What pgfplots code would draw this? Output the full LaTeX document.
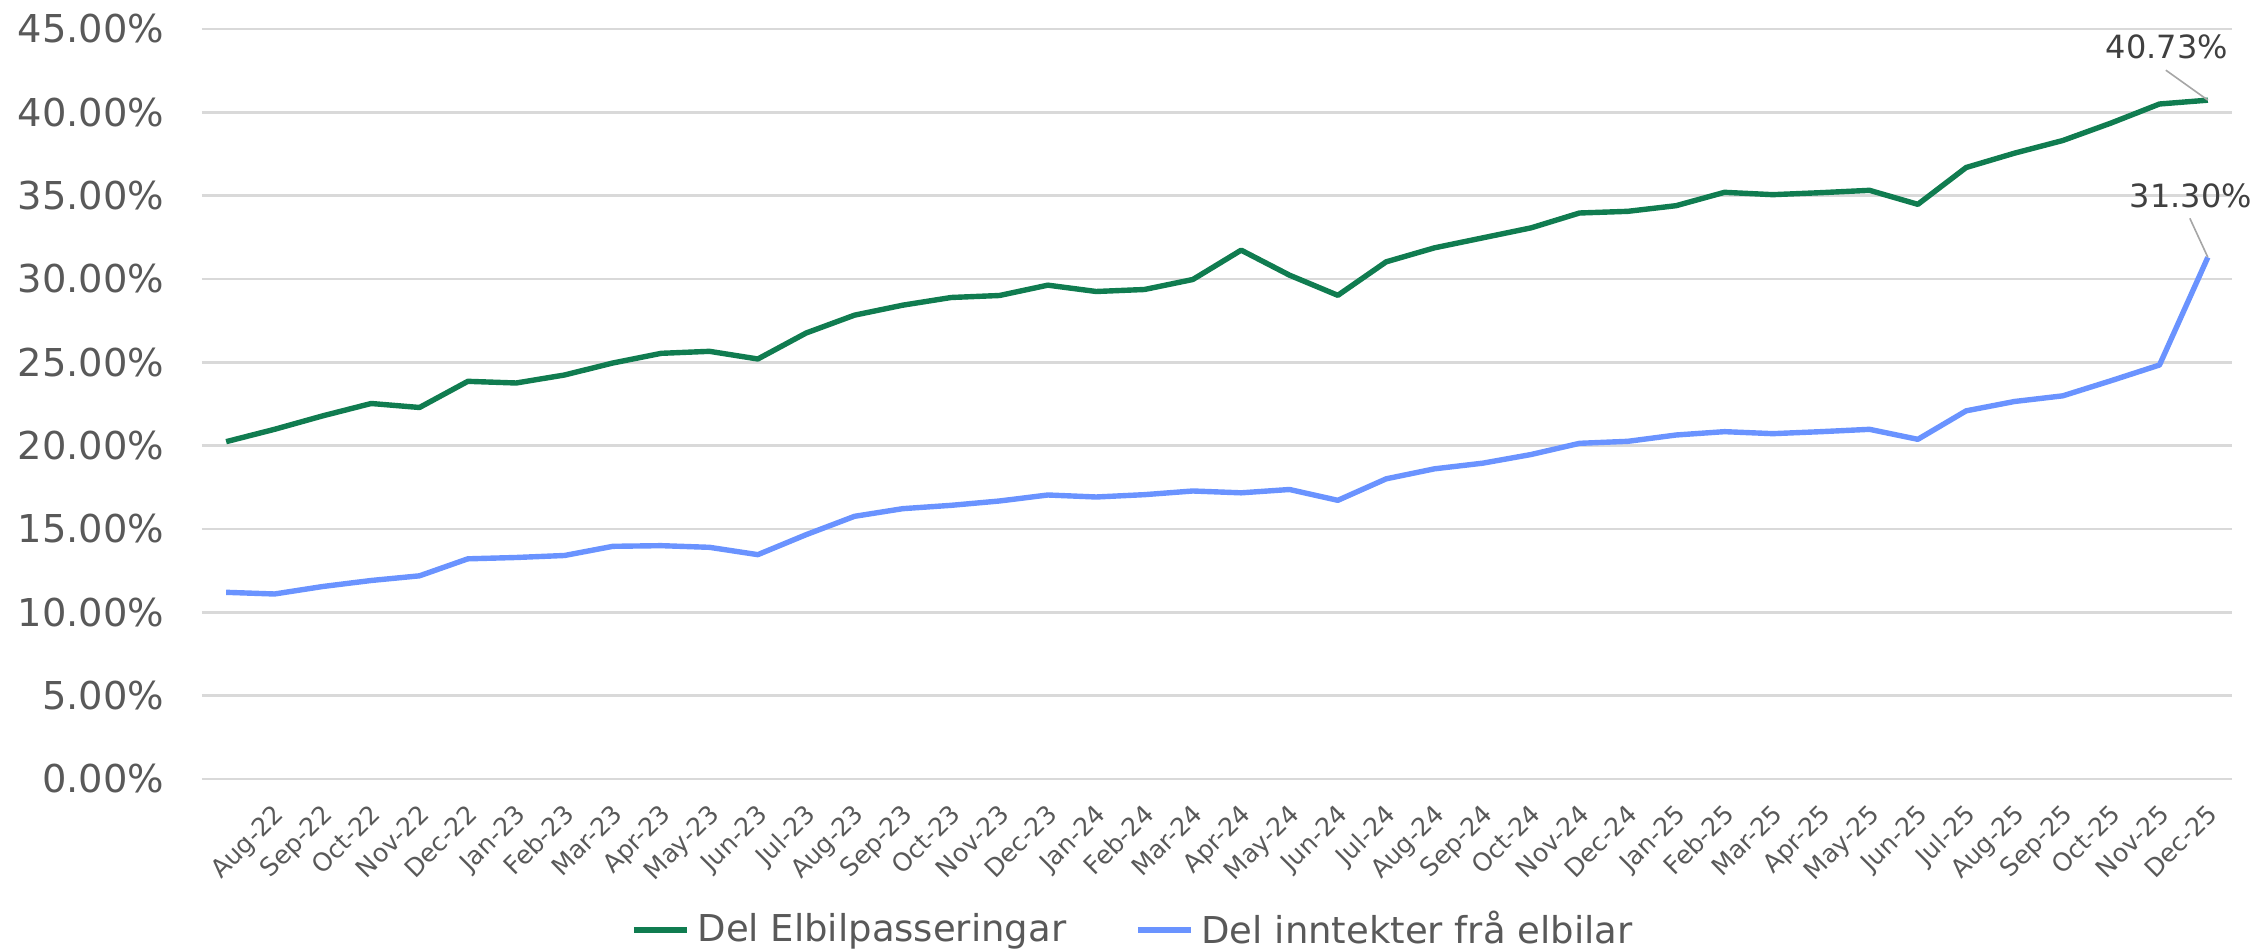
\documentclass[border=0pt]{standalone}
\usepackage{pgfplots}
\pgfplotsset{compat=1.18}
\usepackage{pgfplotstable}
\usepackage{fontspec}
\setmainfont{DejaVu Sans}
\definecolor{elgreen}{HTML}{107C50}
\definecolor{elblue}{HTML}{6A93FF}
\definecolor{gridgray}{HTML}{D9D9D9}
\definecolor{txtgray}{HTML}{595959}
\definecolor{lblgray}{HTML}{404040}
\definecolor{leadgray}{HTML}{A6A6A6}

\pgfplotstableread{
x g b
0 20.24 11.20
1 20.98 11.10
2 21.79 11.55
3 22.53 11.91
4 22.29 12.19
5 23.86 13.21
6 23.76 13.29
7 24.24 13.41
8 24.96 13.96
9 25.54 14.00
10 25.66 13.90
11 25.20 13.46
12 26.76 14.66
13 27.83 15.76
14 28.43 16.22
15 28.89 16.42
16 29.01 16.68
17 29.63 17.04
18 29.25 16.92
19 29.37 17.06
20 29.97 17.28
21 31.73 17.17
22 30.23 17.37
23 29.02 16.72
24 31.03 18.01
25 31.87 18.61
26 32.47 18.95
27 33.07 19.47
28 33.96 20.14
29 34.06 20.26
30 34.40 20.64
31 35.20 20.84
32 35.06 20.72
33 35.18 20.84
34 35.32 20.98
35 34.48 20.38
36 36.69 22.09
37 37.55 22.65
38 38.31 22.99
39 39.36 23.90
40 40.50 24.84
41 40.73 31.30
}\datatable

\begin{document}
\begin{tikzpicture}
\begin{axis}[
  scale only axis,
  width=507.5pt, height=187.5pt,
  xmin=-0.5, xmax=41.5, ymin=0, ymax=45,
  ytick={0,5,...,45},
  yticklabels={0.00\%,5.00\%,10.00\%,15.00\%,20.00\%,25.00\%,30.00\%,35.00\%,40.00\%,45.00\%},
  xtick={1,...,41},
  xticklabels={Aug-22,Sep-22,Oct-22,Nov-22,Dec-22,Jan-23,Feb-23,Mar-23,Apr-23,May-23,Jun-23,Jul-23,Aug-23,Sep-23,Oct-23,Nov-23,Dec-23,Jan-24,Feb-24,Mar-24,Apr-24,May-24,Jun-24,Jul-24,Aug-24,Sep-24,Oct-24,Nov-24,Dec-24,Jan-25,Feb-25,Mar-25,Apr-25,May-25,Jun-25,Jul-25,Aug-25,Sep-25,Oct-25,Nov-25,Dec-25},
  ymajorgrids,
  grid style={line width=0.6pt, gridgray},
  axis line style={draw=none},
  tick style={draw=none},
  major tick length=0pt,
  yticklabel style={anchor=east, inner sep=0pt, xshift=-9.25pt, font=\fontsize{9.6}{11}\selectfont, text=txtgray},
  xticklabel style={xshift=-0.6pt, yshift=-5.6pt, rotate=45, anchor=north east, inner sep=0pt, font=\fontsize{6.3}{7.5}\selectfont, text=txtgray},
  clip=false,
  legend columns=2,
  legend style={draw=none, fill=none, at={(0.4581,-0.2013)}, anchor=center,
    font=\fontsize{9.25}{11}\selectfont, text=txtgray, inner sep=0pt,
    nodes={inner sep=0pt},
    /tikz/every odd column/.style={column sep=2pt},
    /tikz/column 2/.style={column sep=17.25pt}},
  legend image code/.code={\draw[#1, line width=1.3pt] (0pt,0pt) -- (13.25pt,0pt);},
]
\addplot[elgreen, line width=1.35pt, line join=round] table[x=x, y=g]{\datatable};
\addlegendentry{Del Elbilpasseringar}
\addplot[elblue, line width=1.35pt, line join=round] table[x=x, y=b]{\datatable};
\addlegendentry{Del inntekter frå elbilar}

\draw[leadgray, line width=0.4pt] (axis cs:41,40.73) -- ++(-10.5pt,7.5pt);
\node[lblgray, font=\fontsize{8}{10}\selectfont, inner sep=0pt, xshift=-10.25pt, yshift=13.25pt] at (axis cs:41,40.73) {40.73\%};
\draw[leadgray, line width=0.4pt] (axis cs:41,31.30) -- ++(-4.5pt,9.75pt);
\node[lblgray, font=\fontsize{8}{10}\selectfont, inner sep=0pt, xshift=-4.25pt, yshift=15.25pt] at (axis cs:41,31.30) {31.30\%};
\end{axis}
\pgfresetboundingbox
\useasboundingbox (-50.5pt,-42.75pt) rectangle (514.25pt,194.75pt);
\end{tikzpicture}
\end{document}
